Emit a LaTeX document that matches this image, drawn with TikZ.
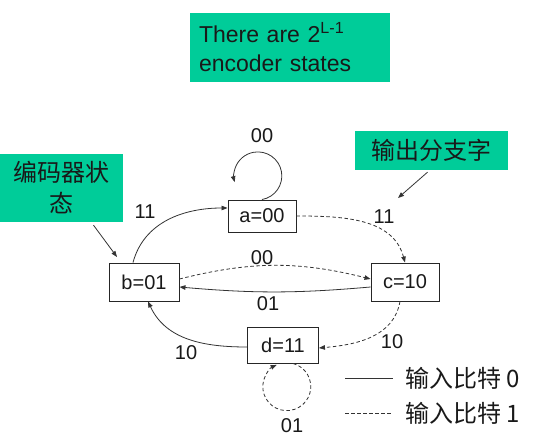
\documentclass[tikz,border=0pt]{standalone}
\usepackage{fontspec}
\setmainfont{Liberation Sans}
\newfontfamily\cjk{Noto Sans CJK SC}
\usetikzlibrary{arrows.meta,positioning}

\begin{document}
\begin{tikzpicture}[x=1pt,y=1pt,
  stbox/.style={draw=cv,line width=0.9pt,fill=white,minimum width=68pt,minimum height=36pt,inner sep=0pt,text=clv,font=\fontsize{20}{24}\selectfont},
  greenbox/.style={fill=cg,inner sep=0pt,text=clv},
  lbl/.style={inner sep=0pt,text=clv,font=\fontsize{20}{24}\selectfont},
  bit0/.style={draw=ce,line width=0.8pt,-{Triangle[length=6pt,width=4.5pt]}},
  bit1/.style={bit0,dash pattern=on 3.5pt off 2.5pt},
  note/.style={draw=ce,line width=0.8pt,-{Triangle[length=6pt,width=4.5pt]}},
]
%
\useasboundingbox (0,0) rectangle (534,443);
%
\definecolor{cg}{rgb}{0.0,0.8,0.6}
\definecolor{cv}{rgb}{0.15,0.15,0.15}
\definecolor{ce}{rgb}{0.2,0.2,0.2}
\definecolor{clv}{rgb}{0.1,0.1,0.1}
%
\node[greenbox,minimum width=200pt,minimum height=69pt,text width=182pt,align=left,font=\fontsize{23}{29}\selectfont] (count) at (290,395.5) {There are 2\textsuperscript{L-1}\\encoder states};
\node[greenbox,minimum width=123pt,minimum height=68pt,align=center,font=\cjk\fontsize{24}{31}\selectfont] (statebox) at (61.5,255) {编码器状\\态};
\node[greenbox,minimum width=153pt,minimum height=39pt,font=\cjk\fontsize{24}{30}\selectfont] (outbox) at (431.5,292.5) {输出分支字};
%
\node[stbox,minimum height=32pt] (a) at (262,227) {a=00};
\node[stbox,minimum width=70pt,minimum height=38pt] (b) at (144,161) {b=01};
\node[stbox,minimum height=38pt] (c) at (405,161) {c=10};
\node[stbox,minimum width=71pt] (d) at (283,98) {d=11};
%
\draw[bit0] (a.north) arc[start angle=-80,end angle=195,radius=24pt];
\draw[bit0] ([xshift=-11pt]b.north) to[out=75,in=180] ([yshift=8pt]a.west);
\draw[bit1] (a.east) to[out=0,in=105] (c.north);
\draw[bit1] ([yshift=3pt]b.east) to[bend left=14] ([yshift=3pt]c.west);
\draw[bit0] ([yshift=-5pt]c.west) to[bend left=5] ([yshift=-5pt]b.east);
\draw[bit1] ([xshift=-5pt]c.south) to[out=-100,in=5] ([yshift=-3pt]d.east);
\draw[bit0] ([yshift=-2pt]d.west) to[out=180,in=-65] ([xshift=4pt]b.south);
\draw[bit1] ([xshift=10pt]d.south) arc[start angle=75,end angle=-245,radius=24pt];
%
\node[lbl] (l00a) at (262,307) {00};
\node[lbl] (l11b) at (145,231) {11};
\node[lbl] (l11c) at (384,226) {11};
\node[lbl] (l00bc) at (262,185) {00};
\node[lbl] (l01cb) at (268,139) {01};
\node[lbl] (l10cd) at (392,101) {10};
\node[lbl] (l10db) at (186,90) {10};
\node[lbl] (l01d) at (292,17) {01};
%
\coordinate (tipout) at (398,245);
\coordinate (tipstate) at (117,186);
\draw[note] ([xshift=-4pt,yshift=-2pt]outbox.south) -- (tipout);
\draw[note] ([xshift=32pt,yshift=-3pt]statebox.south) -- (tipstate);
%
\coordinate (k0a) at (345,65);
\coordinate (k0b) at (393,65);
\coordinate (k1a) at (345,30);
\coordinate (k1b) at (393,30);
\draw[draw=ce,line width=0.8pt] (k0a) -- (k0b);
\draw[draw=ce,line width=0.8pt,dash pattern=on 3.5pt off 2.5pt] (k1a) -- (k1b);
\node[anchor=west,inner sep=0pt,text=clv,font=\cjk\fontsize{24}{30}\selectfont] (key0) at (405,65) {输入比特 0};
\node[anchor=west,inner sep=0pt,text=clv,font=\cjk\fontsize{24}{30}\selectfont] (key1) at (405,30) {输入比特 1};
%
\end{tikzpicture}
\end{document}
